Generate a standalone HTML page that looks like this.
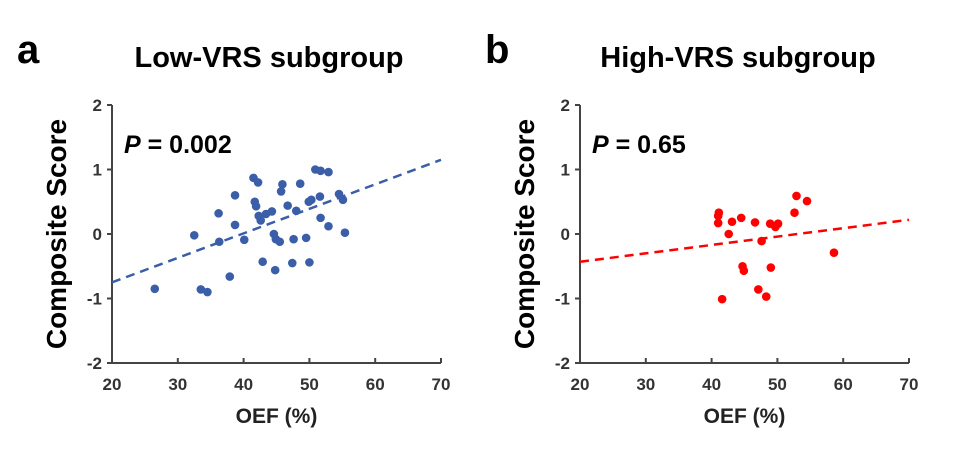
<!DOCTYPE html>
<html><head><meta charset="utf-8"><style>
body{margin:0;background:#fff;width:954px;height:449px;overflow:hidden}
svg{display:block;font-family:"Liberation Sans",Arial,sans-serif}
</style></head><body>
<svg id="c" width="954" height="449"></svg>
<script>
const xTicks=[20,30,40,50,60,70];
const yTicks=[-2,-1,0,1,2];
const lowX=[26.5,32.5,33.5,34.5,36.2,36.3,37.9,38.7,38.7,40.1,41.5,42.2,41.7,41.9,42.3,42.6,43.4,44.3,42.9,44.6,44.9,45.5,44.8,45.9,45.7,46.7,47.6,47.4,48.0,48.6,49.5,50.0,49.9,50.3,50.9,51.7,52.9,51.6,51.7,52.9,54.5,55.1,55.4];
const lowY=[-0.85,-0.02,-0.86,-0.90,0.32,-0.12,-0.66,0.60,0.14,-0.09,0.87,0.80,0.50,0.43,0.28,0.21,0.31,0.35,-0.43,0.0,-0.08,-0.12,-0.56,0.77,0.66,0.44,-0.08,-0.45,0.36,0.78,-0.06,-0.44,0.50,0.53,1.0,0.98,0.96,0.58,0.25,0.12,0.62,0.53,0.02];
const lowFit=[-0.75,1.15];
const highX=[41.1,41.0,41.0,43.1,42.6,44.5,46.6,47.6,44.7,44.9,41.6,47.1,48.3,49.0,48.9,49.7,50.1,52.6,52.9,54.5,58.6];
const highY=[0.33,0.28,0.17,0.19,0.0,0.25,0.18,-0.11,-0.50,-0.57,-1.01,-0.86,-0.97,-0.52,0.16,0.11,0.16,0.33,0.59,0.51,-0.29];
const highFit=[-0.43,0.22];
const NS='http://www.w3.org/2000/svg';
const svg=document.getElementById('c');
function mk(t,a,p){const e=document.createElementNS(NS,t);for(const k in a)e.setAttribute(k,a[k]);(p||svg).appendChild(e);return e;}
function panel(x0,letter,title,titleX,pText,pVal,xs,ys,fit,col,pre){
  const g=mk('g',{});
  
  
  const L=x0,R=x0+329,T=105,B=363;
  const sx=v=>L+(v-20)/50*(R-L), sy=v=>T+(2-v)/4*(B-T);
  let t=mk('text',{x:x0-95,y:63,'font-size':40,'font-weight':'bold'},g);t.textContent=letter;
  
  t=mk('text',{x:titleX,y:67,'font-size':29,'font-weight':'bold','text-anchor':'middle'},g);t.textContent=title;
  
  t=mk('text',{x:-234,y:x0-46,'font-size':28,'font-weight':'bold','text-anchor':'middle',transform:'rotate(-90)'},g);t.textContent='Composite Score';
  
  t=mk('text',{x:(L+R)/2,y:423,'font-size':21,'font-weight':'bold','text-anchor':'middle',fill:'#222'},g);t.textContent='OEF (%)';
  
  t=mk('text',{x:x0+12,y:153,'font-size':25,'font-weight':'bold'},g);
  const ti=mk('tspan',{'font-style':'italic'},t);ti.textContent=pText;
  const tv=mk('tspan',{},t);tv.textContent=pVal;
  
  const ax=mk('path',{d:`M${L} ${T}V${B}H${R}`,stroke:'#444','stroke-width':2,fill:'none'},g);
  
  yTicks.forEach(v=>{mk('line',{x1:L-5,x2:L,y1:sy(v),y2:sy(v),stroke:'#444','stroke-width':2},g);
    const e=mk('text',{x:L-10,y:sy(v)+6,'font-size':17,'font-weight':'bold','text-anchor':'end',fill:'#333'},g);e.textContent=v;
    });
  xTicks.forEach(v=>{mk('line',{x1:sx(v),x2:sx(v),y1:B-5,y2:B,stroke:'#444','stroke-width':2},g);
    const e=mk('text',{x:sx(v),y:B+27,'font-size':17,'font-weight':'bold','text-anchor':'middle',fill:'#333'},g);e.textContent=v;
    });
  const ln=mk('line',{x1:sx(20),y1:sy(fit[0]),x2:sx(70),y2:sy(fit[1]),stroke:col,'stroke-width':2.5,'stroke-dasharray':'9,6'},g);
  
  xs.forEach((v,i)=>{const c=mk('circle',{cx:sx(v),cy:sy(ys[i]),r:4.3,fill:col},g);
    
    });
}
panel(112,'a','Low-VRS subgroup',269,'P',' = 0.002',lowX,lowY,lowFit,'#3a5ea8','low-vrs');
panel(580,'b','High-VRS subgroup',738,'P',' = 0.65',highX,highY,highFit,'#ff0000','high-vrs');
</script>
</body></html>
